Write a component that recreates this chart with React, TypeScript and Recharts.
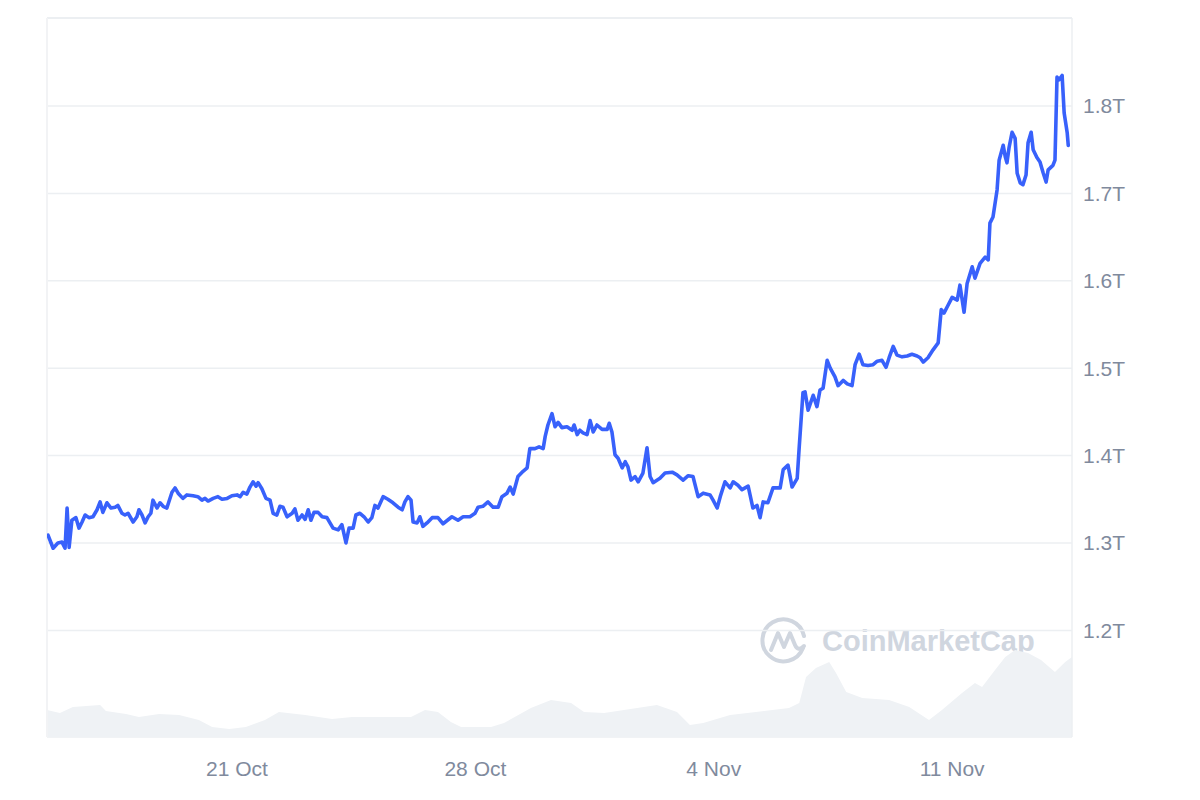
import React from "react";
import {
  ComposedChart,
  Line,
  Area,
  XAxis,
  YAxis,
  CartesianGrid,
  ReferenceLine,
} from "recharts";

// day of month counted from 1 Oct (32 = 1 Nov)
const capDays = [
  15.45, 15.6, 15.74, 15.86, 15.95, 16.01, 16.07, 16.15, 16.27, 16.36,
  16.45, 16.54, 16.65, 16.77, 16.89, 16.98, 17.06, 17.18, 17.3, 17.42,
  17.5, 17.62, 17.71, 17.8, 17.95, 18.06, 18.12, 18.21, 18.3, 18.39,
  18.47, 18.53, 18.65, 18.74, 18.83, 18.94, 19.09, 19.18, 19.27, 19.41,
  19.53, 19.71, 19.85, 19.97, 20.06, 20.15, 20.3, 20.44, 20.56, 20.71,
  20.85, 21.0, 21.09, 21.18, 21.29, 21.38, 21.47, 21.56, 21.62, 21.73,
  21.85, 21.97, 22.06, 22.17, 22.26, 22.35, 22.47, 22.62, 22.7, 22.79,
  22.91, 23.0, 23.09, 23.17, 23.26, 23.38, 23.5, 23.64, 23.73, 23.82,
  23.97, 24.08, 24.2, 24.29, 24.41, 24.49, 24.61, 24.73, 24.85, 24.96,
  25.05, 25.14, 25.29, 25.43, 25.58, 25.73, 25.85, 25.93, 26.02, 26.11,
  26.17, 26.29, 26.37, 26.46, 26.58, 26.73, 26.9,
  27.05, 27.31, 27.49, 27.64, 27.84, 27.99, 28.08, 28.22, 28.37, 28.52,
  28.67, 28.78, 28.93, 29.02, 29.11, 29.25, 29.4, 29.52, 29.6, 29.75,
  29.87, 29.99, 30.05, 30.13, 30.25, 30.34, 30.43, 30.54, 30.69, 30.84,
  30.9, 30.99, 31.07, 31.16, 31.28, 31.37, 31.46, 31.57, 31.72, 31.87,
  31.93, 32.01, 32.1, 32.19, 32.31, 32.4, 32.48, 32.57, 32.69, 32.78,
  32.92, 33.04, 33.13, 33.22, 33.42, 33.57, 33.78, 33.92, 34.1, 34.25,
  34.39, 34.54, 34.69, 34.89, 34.98, 35.1, 35.19, 35.33, 35.48, 35.57,
  35.71, 35.83, 36.01, 36.15, 36.27, 36.36, 36.45, 36.59, 36.74, 36.95,
  37.04, 37.18, 37.3, 37.45, 37.51, 37.62,
  37.68, 37.77, 37.92, 38.03, 38.12, 38.21, 38.33, 38.42, 38.56, 38.65,
  38.8, 38.92, 39.06, 39.15, 39.27, 39.38, 39.53, 39.68, 39.8, 39.94,
  40.06, 40.15, 40.27, 40.38, 40.53, 40.68, 40.82, 40.97, 41.06, 41.15,
  41.29, 41.44, 41.59, 41.68, 41.76, 41.88, 42.0, 42.15, 42.23, 42.35,
  42.44, 42.59, 42.67, 42.82, 42.97, 43.06, 43.11, 43.2, 43.32, 43.38,
  43.5, 43.56, 43.61, 43.67, 43.76, 43.85, 43.91, 44.0, 44.08, 44.17,
  44.23, 44.32, 44.38, 44.49, 44.58, 44.67, 44.76, 44.82, 44.96, 45.02,
  45.08, 45.14, 45.23, 45.29, 45.38, 45.41,
];

// total market cap, trillions USD
const capValues = [
  1.309, 1.294, 1.3, 1.301, 1.294, 1.34, 1.295, 1.326, 1.329, 1.317,
  1.324, 1.332, 1.329, 1.33, 1.338, 1.347, 1.335, 1.346, 1.34, 1.341,
  1.343, 1.334, 1.332, 1.334, 1.324, 1.33, 1.338, 1.332, 1.323, 1.33,
  1.334, 1.349, 1.34, 1.346, 1.342, 1.34, 1.358, 1.363, 1.357, 1.351,
  1.355, 1.354, 1.353, 1.349, 1.351, 1.348, 1.351, 1.353, 1.35, 1.351,
  1.354, 1.355, 1.353, 1.358, 1.356, 1.364, 1.37, 1.365, 1.369, 1.362,
  1.351, 1.349, 1.334, 1.332, 1.342, 1.341, 1.33, 1.334, 1.339, 1.326,
  1.332, 1.327, 1.338, 1.326, 1.335, 1.335, 1.33, 1.329, 1.323, 1.317,
  1.315, 1.321, 1.3, 1.317, 1.317, 1.332, 1.334, 1.33, 1.324, 1.329,
  1.343, 1.34, 1.353, 1.35, 1.346, 1.341, 1.338, 1.347, 1.353, 1.349,
  1.324, 1.323, 1.33, 1.319, 1.323, 1.329, 1.329,
  1.322, 1.33, 1.326, 1.33, 1.33, 1.334, 1.341, 1.342, 1.347, 1.341,
  1.341, 1.353, 1.357, 1.364, 1.356, 1.376, 1.382, 1.386, 1.408, 1.408,
  1.41, 1.408, 1.422, 1.435, 1.448, 1.433, 1.438, 1.432, 1.433, 1.429,
  1.435, 1.424, 1.429, 1.426, 1.424, 1.44, 1.427, 1.435, 1.43, 1.43,
  1.437, 1.427, 1.401, 1.397, 1.386, 1.393, 1.387, 1.372, 1.376, 1.37,
  1.38, 1.409, 1.376, 1.369, 1.374, 1.38, 1.381, 1.378, 1.372, 1.377,
  1.376, 1.353, 1.357, 1.355, 1.349, 1.34, 1.353, 1.37, 1.363, 1.37,
  1.366, 1.361, 1.365, 1.34, 1.343, 1.329, 1.347, 1.346, 1.363, 1.363,
  1.384, 1.389, 1.364, 1.374, 1.41, 1.472,
  1.473, 1.452, 1.469, 1.456, 1.475, 1.477, 1.509, 1.5, 1.49, 1.48,
  1.486, 1.482, 1.48, 1.504, 1.516, 1.504, 1.503, 1.504, 1.508, 1.509,
  1.501, 1.512, 1.525, 1.515, 1.513, 1.514, 1.516, 1.514, 1.512, 1.507,
  1.512, 1.521, 1.529, 1.567, 1.563, 1.572, 1.581, 1.578, 1.595, 1.564,
  1.597, 1.616, 1.603, 1.62, 1.627, 1.624, 1.666, 1.673, 1.704, 1.738,
  1.755, 1.742, 1.735, 1.752, 1.77, 1.763, 1.723, 1.712, 1.71, 1.721,
  1.758, 1.77, 1.75, 1.741, 1.736, 1.724, 1.713, 1.727, 1.732, 1.738,
  1.833, 1.83, 1.835, 1.792, 1.769, 1.755,
];

const volDays = [
  15.42, 15.8, 16.18, 16.98, 17.15, 17.74, 18.12, 18.71, 19.3, 19.88,
  20.27, 20.77, 21.26, 21.82, 22.23, 23.0, 23.79, 24.38, 25.14, 26.11,
  26.52, 26.9, 27.28, 27.58, 28.46, 28.84, 29.63, 30.22, 30.81, 31.19,
  31.78, 32.75, 33.33, 33.92, 34.3, 34.69, 35.48, 36.24, 37.21, 37.51,
  37.71, 38.0, 38.39, 38.59, 38.89, 39.36, 40.15, 40.74, 41.32, 41.7,
  42.29, 42.67, 42.88, 43.26, 43.56, 43.85, 44.23, 44.61, 45.02, 45.32,
  45.52,
];

// 24h volume, billions USD
const volValues = [
  37.6, 33.4, 41.7, 44.5, 36.2, 32.0, 27.8, 32.0, 30.6, 23.6,
  13.9, 11.1, 13.9, 23.6, 34.8, 30.6, 25.0, 27.8, 27.8, 27.8,
  37.6, 34.8, 20.9, 13.9, 13.9, 19.5, 40.3, 51.5, 47.3, 34.8,
  33.4, 40.3, 44.5, 34.8, 16.7, 19.5, 30.6, 34.8, 40.3, 47.3,
  83.4, 96.0, 104.3, 89.0, 62.6, 54.2, 51.5, 41.7, 23.6, 37.6,
  61.2, 75.1, 69.5, 93.2, 111.3, 121.0, 116.8, 107.1, 90.4, 104.3,
  111.3,
];

const dateTicks = [21, 28, 35, 42];
const dateLabels = ["21 Oct", "28 Oct", "4 Nov", "11 Nov"];
const capTicks = [1.2, 1.3, 1.4, 1.5, 1.6, 1.7, 1.8];

const dayDomain = [15.42, 45.52];
const capDomain = [1.078, 1.9007];
const volDomain = [0, 1000];

const capData = capDays.map((day, i) => ({ day, cap: capValues[i] }));
const volData = volDays.map((day, i) => ({ day, volume: volValues[i] }));

const gridColor = "#eceff2";
const labelColor = "#808a9d";
const font = "'Liberation Sans', Arial, sans-serif";

const Watermark = () => (
  <div
    style={{
      position: "absolute",
      left: 760,
      top: 616,
      display: "flex",
      alignItems: "center",
      pointerEvents: "none",
    }}
  >
    <svg width="50" height="50" viewBox="0 0 50 50">
      <path
        d="M 43 32 A 21 21 0 1 1 44 20"
        fill="none"
        stroke="#d0d6df"
        strokeWidth="4"
        strokeLinecap="round"
      />
      <path
        d="M 11 34 L 18 17 L 24 31 L 30 17 L 35 29 Q 38 36 44 30"
        fill="none"
        stroke="#d0d6df"
        strokeWidth="4"
        strokeLinejoin="round"
        strokeLinecap="round"
      />
    </svg>
    <span
      style={{
        marginLeft: 12,
        fontFamily: font,
        fontWeight: 700,
        fontSize: 29,
        lineHeight: "30px",
        color: "#d0d6df",
      }}
    >
      CoinMarketCap
    </span>
  </div>
);

export default function App() {
  return (
    <div
      style={{
        position: "absolute",
        left: 0,
        top: 0,
        width: 1200,
        height: 800,
        background: "#fff",
      }}
    >
      <Watermark />
      <div style={{ position: "absolute", left: 0, top: 0 }}>
        <ComposedChart
          width={1200}
          height={800}
          margin={{ top: 18, right: 0, bottom: 0, left: 47 }}
        >
          <CartesianGrid vertical={false} stroke={gridColor} strokeWidth={1.5} />
          <XAxis
            type="number"
            dataKey="day"
            domain={dayDomain}
            ticks={dateTicks}
            allowDataOverflow
            tickFormatter={(d) => dateLabels[dateTicks.indexOf(d)] ?? ""}
            axisLine={false}
            tickLine={false}
            tickMargin={18}
            height={63}
            tick={{ fill: labelColor, fontSize: 21, fontFamily: font }}
          />
          <YAxis
            orientation="right"
            type="number"
            domain={capDomain}
            ticks={capTicks}
            allowDataOverflow
            width={128}
            tickLine={false}
            axisLine={{ stroke: gridColor, strokeWidth: 1.5 }}
            tickMargin={5}
            tickFormatter={(v) => `${v.toFixed(1)}T`}
            tick={{ fill: labelColor, fontSize: 21, fontFamily: font }}
          />
          <YAxis yAxisId="vol" hide domain={volDomain} />
          <ReferenceLine y={capDomain[1]} stroke={gridColor} strokeWidth={2} />
          <ReferenceLine x={dayDomain[0]} stroke="#f2f3f5" strokeWidth={2} />
          <Area
            yAxisId="vol"
            data={volData}
            dataKey="volume"
            type="linear"
            stroke="none"
            fill="#eff2f5"
            fillOpacity={1}
            isAnimationActive={false}
          />
          <Line
            data={capData}
            dataKey="cap"
            type="linear"
            stroke="#3861fb"
            strokeWidth={3.6}
            strokeLinejoin="round"
            strokeLinecap="round"
            dot={false}
            isAnimationActive={false}
          />
        </ComposedChart>
      </div>
    </div>
  );
}
